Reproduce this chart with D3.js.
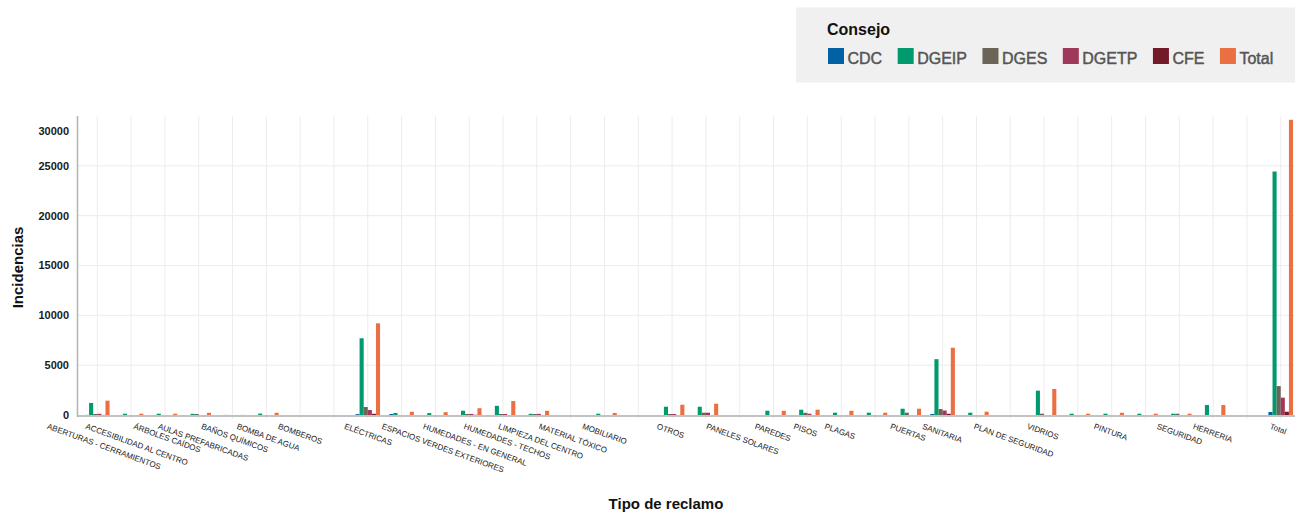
<!DOCTYPE html>
<html>
<head>
<meta charset="utf-8">
<script src="https://cdn.jsdelivr.net/npm/d3@7"></script>
<style>
  html, body { margin: 0; padding: 0; background: #fff; }
  svg { display: block; font-family: "Liberation Sans", Arial, Helvetica, sans-serif; }
</style>
</head>
<body>
<svg id="chart" width="1295" height="514"></svg>
<script>
// Reclamos por tipo y consejo
const categories = [
  "ABERTURAS - CERRAMIENTOS", "ACCESIBILIDAD AL CENTRO", "ÁRBOLES CAÍDOS", "AULAS PREFABRICADAS",
  "BAÑOS QUÍMICOS", "BOMBA DE AGUA", "BOMBEROS", "", "ELÉCTRICAS", "",
  "ESPACIOS VERDES EXTERIORES", "HUMEDADES - EN GENERAL", "HUMEDADES - TECHOS", "LIMPIEZA DEL CENTRO",
  "MATERIAL TÓXICO", "MOBILIARIO", "", "OTROS", "", "PANELES SOLARES", "PAREDES", "PISOS", "PLAGAS", "",
  "PUERTAS", "SANITARIA", "", "PLAN DE SEGURIDAD", "VIDRIOS", "", "PINTURA", "", "SEGURIDAD",
  "HERRERIA", "", "Total"
];

const seriesNames = ["CDC", "DGEIP", "DGES", "DGETP", "CFE", "Total"];
const seriesColors = ["#0061a3", "#009a6e", "#6a6557", "#a0385a", "#731a28", "#ea7043"];

const CDC   = [10, 0, 0, 0, 0, 0, 0, 0, 90, 100, 0, 0, 0, 0, 0, 0, 0, 0, 0, 0, 0, 0, 0, 0, 0, 100, 0, 0, 0, 0, 0, 0, 0, 0, 0, 300];
const DGEIP = [1210, 130, 130, 120, 10, 140, 0, 0, 7700, 200, 190, 430, 920, 120, 0, 130, 0, 830, 830, 0, 430, 530, 230, 230, 630, 5600, 230, 0, 2440, 130, 130, 130, 130, 1000, 0, 24430];
const DGES  = [100, 0, 0, 100, 0, 0, 0, 0, 800, 0, 0, 100, 100, 100, 0, 0, 0, 100, 230, 0, 0, 220, 0, 0, 230, 600, 0, 0, 130, 0, 0, 0, 130, 0, 0, 2900];
const DGETP = [120, 0, 0, 0, 0, 0, 0, 0, 500, 0, 0, 110, 100, 110, 0, 0, 0, 100, 230, 0, 0, 130, 0, 0, 0, 450, 0, 0, 0, 0, 0, 0, 0, 0, 0, 1740];
const CFE   = [10, 0, 0, 0, 0, 0, 0, 0, 120, 0, 0, 20, 0, 0, 0, 0, 0, 0, 0, 0, 0, 0, 0, 0, 0, 120, 0, 0, 0, 0, 0, 0, 0, 0, 0, 330];
const Total = [1440, 130, 130, 220, 10, 220, 0, 0, 9200, 320, 280, 680, 1400, 420, 0, 200, 0, 1030, 1130, 0, 420, 530, 420, 230, 630, 6750, 330, 0, 2610, 130, 220, 130, 130, 1000, 0, 29620];

const yTicks = [0, 5000, 10000, 15000, 20000, 25000, 30000];

const seriesValues = [CDC, DGEIP, DGES, DGETP, CFE, Total];

const svg = d3.select("#chart");
const W = 1295, H = 514;
const plot = { left: 78, right: 1300, top: 116, bottom: 415 };

const x0 = d3.scaleBand()
  .domain(d3.range(categories.length))
  .range([plot.left, plot.right])
  .paddingInner(0)
  .paddingOuter(0.07);

const x1 = d3.scaleBand()
  .domain(seriesNames)
  .range([0, x0.bandwidth()])
  .paddingInner(0)
  .paddingOuter(1.125);

const y = d3.scaleLinear().domain([0, 30000]).range([plot.bottom, plot.top]);

const center = i => x0(i) + x0.bandwidth() / 2;

// grid
const grid = svg.append("g");
grid.selectAll("line.v").data(d3.range(categories.length)).join("line")
  .attr("x1", d => center(d)).attr("x2", d => center(d))
  .attr("y1", plot.top).attr("y2", plot.bottom + 4)
  .attr("stroke", "#ececec").attr("stroke-width", 1);
grid.selectAll("line.h").data(yTicks.filter(t => t > 0 && t < 30000)).join("line")
  .attr("x1", plot.left).attr("x2", W)
  .attr("y1", d => y(d)).attr("y2", d => y(d))
  .attr("stroke", "#ececec").attr("stroke-width", 1);

// bars
const bars = [];
categories.forEach((c, i) => {
  seriesNames.forEach((s, j) => {
    bars.push({ i, s, j, v: seriesValues[j][i] });
  });
});
svg.append("g").selectAll("rect").data(bars.filter(d => d.v > 0)).join("rect")
  .attr("x", d => x0(d.i) + x1(d.s))
  .attr("width", x1.bandwidth())
  .attr("y", d => y(d.v))
  .attr("height", d => y(0) - y(d.v))
  .attr("fill", d => seriesColors[d.j]);

// axis lines
svg.append("line")
  .attr("x1", plot.left).attr("x2", W)
  .attr("y1", plot.bottom + 1).attr("y2", plot.bottom + 1)
  .attr("stroke", "#c2c2c2").attr("stroke-width", 2);
svg.append("line")
  .attr("x1", plot.left - 0.5).attr("x2", plot.left - 0.5)
  .attr("y1", plot.top).attr("y2", plot.bottom + 2)
  .attr("stroke", "#b3b3b3").attr("stroke-width", 1.5);

// y tick labels (kept clear of the top edge)
svg.append("g").selectAll("text").data(yTicks).join("text")
  .attr("x", plot.left - 9)
  .attr("y", d => Math.max(y(d), plot.top + 15.5))
  .attr("dy", "0.35em")
  .attr("text-anchor", "end")
  .attr("font-size", 11)
  .attr("font-weight", "bold")
  .attr("fill", "#1a1a1a")
  .text(d => d);

// x tick labels: rotated about their start, roughly centred under each category
const ang = 20;
const xl = svg.append("g").selectAll("text").data(d3.range(categories.length)).join("text")
  .attr("font-size", 8)
  .attr("fill", "#1a1a1a")
  .text(d => categories[d]);
xl.each(function(d) {
  const w = this.getComputedTextLength();
  const tx = center(d) - 0.38 * w - 5;
  d3.select(this).attr("transform", `translate(${tx},428.5) rotate(${ang})`);
});

// axis titles
svg.append("text")
  .attr("transform", "translate(23,267.5) rotate(-90)")
  .attr("text-anchor", "middle")
  .attr("font-size", 15).attr("font-weight", "bold").attr("fill", "#111")
  .text("Incidencias");
svg.append("text")
  .attr("x", 666).attr("y", 509)
  .attr("text-anchor", "middle")
  .attr("font-size", 15).attr("font-weight", "bold").attr("fill", "#111")
  .text("Tipo de reclamo");

// legend
const lg = svg.append("g");
lg.append("rect").attr("x", 796).attr("y", 7.5).attr("width", W - 796).attr("height", 75)
  .attr("fill", "#f0f0f0");
lg.append("text").attr("x", 827).attr("y", 34.5)
  .attr("font-size", 16).attr("font-weight", "bold").attr("fill", "#111")
  .text("Consejo");
let lx = 828;
seriesNames.forEach((s, j) => {
  lg.append("rect").attr("x", lx).attr("y", 48).attr("width", 16).attr("height", 16)
    .attr("fill", seriesColors[j]);
  const t = lg.append("text").attr("x", lx + 19.5).attr("y", 63.5)
    .attr("font-size", 16).attr("fill", "#555")
    .attr("stroke", "#555").attr("stroke-width", 0.45)
    .text(s);
  lx += 19.5 + t.node().getComputedTextLength() + 15.5;
});
</script>
</body>
</html>
